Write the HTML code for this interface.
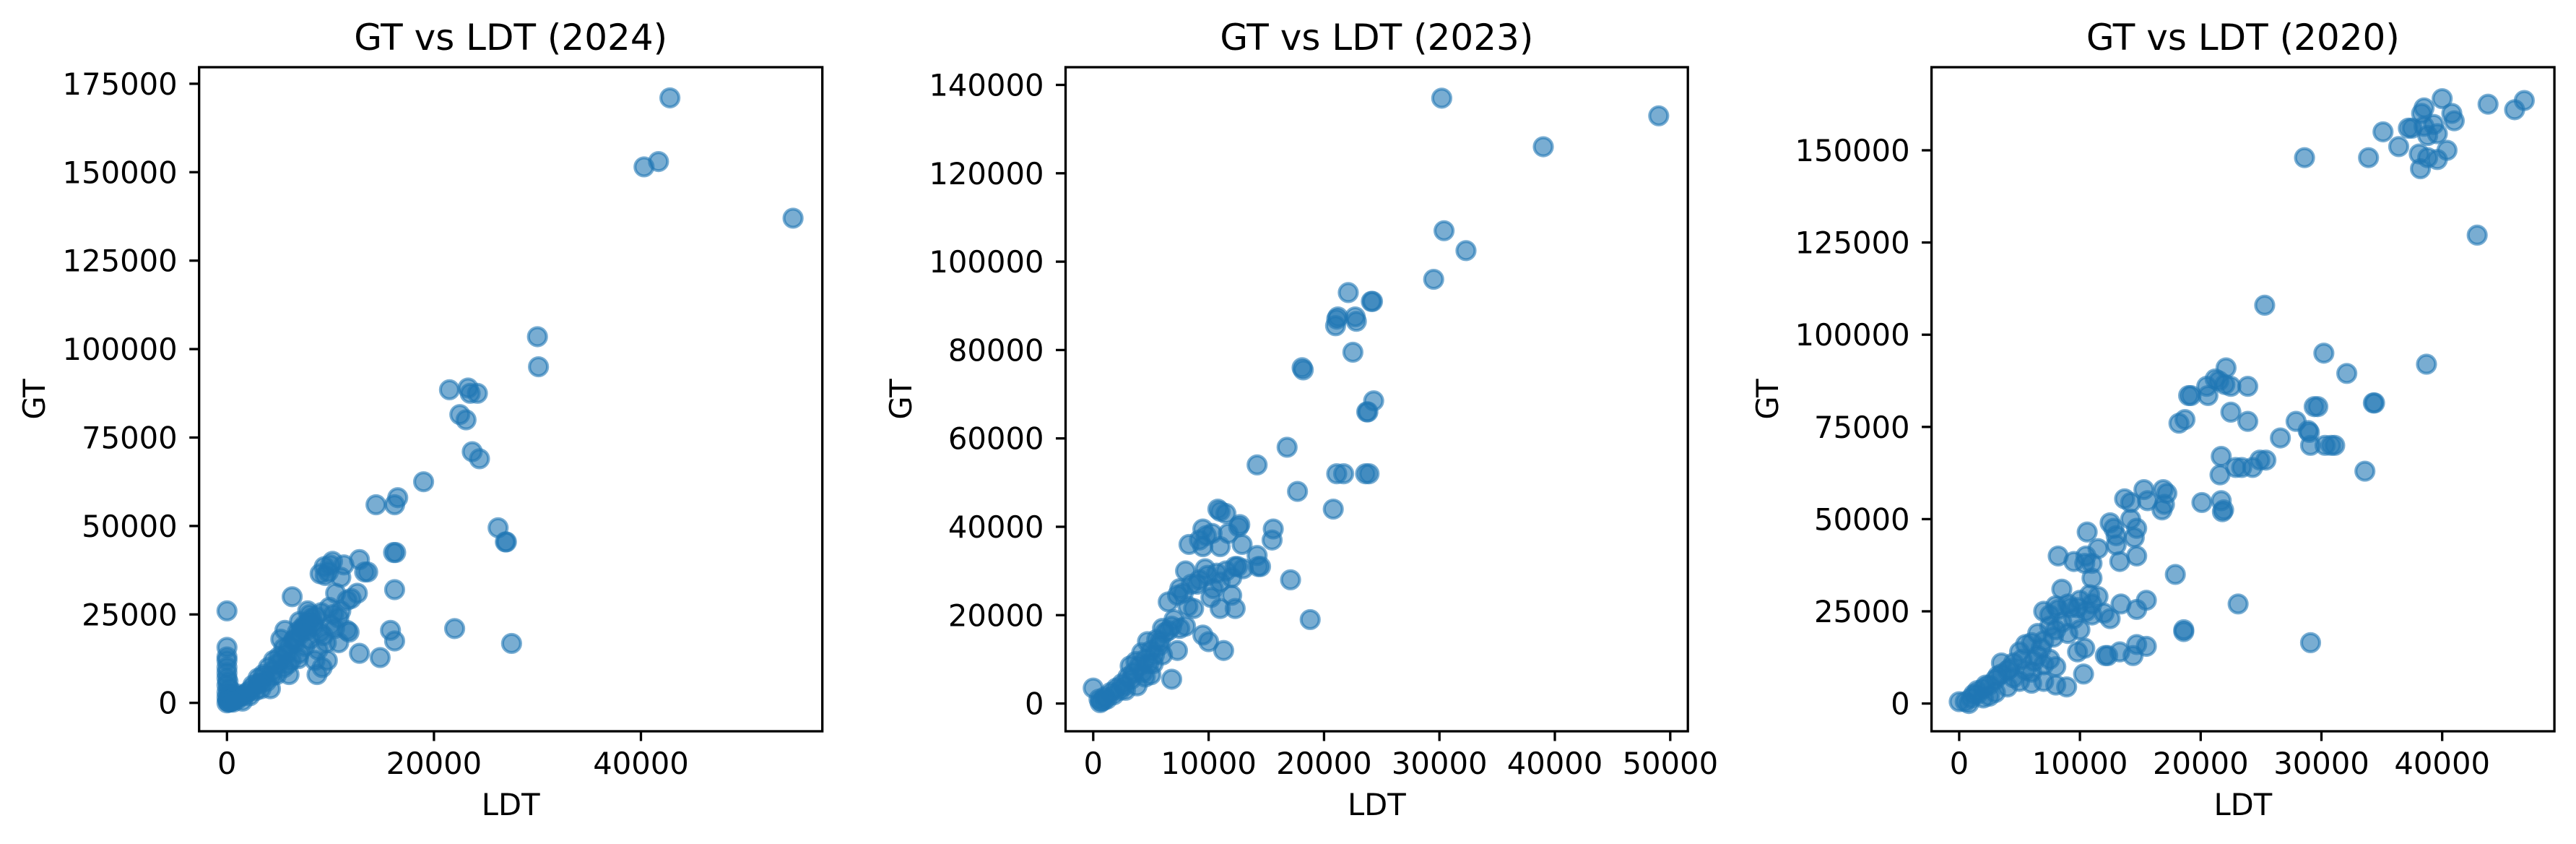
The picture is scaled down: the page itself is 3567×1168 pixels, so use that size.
<!DOCTYPE html>
<html><head><meta charset="utf-8">
<style>
html,body{margin:0;padding:0;background:#fff;}
svg{display:block;}
text{font-family:"DejaVu Sans","Liberation Sans",sans-serif;fill:#000;}
</style></head>
<body>
<svg id="fig" width="3567" height="1168" viewBox="0 0 3567 1168" xmlns="http://www.w3.org/2000/svg">
<rect width="3567" height="1168" fill="#fff"/>
</svg>
<script>
const p1LDT=[42800,40300,41700,54700,30000,30100,21500,23300,23500,24200,22500,23100,23700,24400,19000,14400,16500,16200,26200,27000,26900,16100,16300,16200,15800,16200,22000,27500,14800,12800,0,0,0,0,0,0,9000,9400,9800,10200,10000,9500,11300,12800,13300,13600,11000,10500,12600,11600,12000,11600,11800,6300,5600,8700,9200,9700,10400,10800,11000,7500,7800,8000,8200,7000,6800,6500,6000,5500,5000,4500,4000,3500,3000,2500,2000,1500,1000,500,200,0,1000,3000,4200,6000,7000,8000,9000,10000,6200,7500,8500,4800,5500,3800,2200,600,300,0,100,1500,2800,5200,6600,7200,8400,9600,9300,8800,10800,7700,6900,5900,4300,3300,0,0,0,100,200,400,800,1200,1800,2400,3200,3600,4400,4900,5300,5800,6400,7100,7400,7900,8300,8600,9100,9900,10300,100,300,600];
const p1GT=[171000,151500,153000,137000,103500,95000,88500,89000,87500,87500,81500,80000,71000,69000,62500,56000,58000,56000,49500,45500,45500,42500,42500,32000,20500,17500,21000,16800,12800,14000,26000,15700,13000,12000,8500,5000,36500,38500,37000,40000,39000,36000,39000,40500,37000,37000,35500,31000,31000,29000,29500,20500,20000,30000,20500,8000,10000,12000,21000,24000,26000,22000,26000,25000,24000,23000,20000,18000,16000,15500,13000,12000,10000,8000,7000,5000,3000,2000,1000,500,200,0,2500,5500,4000,8000,14000,18000,20000,22000,12000,16000,12000,8000,10000,6000,2000,1500,2500,3000,1000,500,3500,18000,17000,21000,21500,17000,19000,15000,17000,20500,12500,11000,7500,4000,7000,10000,1500,6000,4000,1000,1500,1800,2500,4000,5500,7500,9000,11000,12500,14000,17500,19500,21000,23000,22500,24500,25500,27000,25000,500,300,200];

const p2LDT=[30200,39000,49000,30400,32300,29500,22100,24200,24100,21200,21100,22700,22800,21000,22500,18100,18200,24300,23700,23800,16800,14200,21100,21700,23600,23900,17700,20800,15600,15500,14200,14300,14500,17100,18800,11300,10000,9500,6800,0,10800,11000,11500,12700,12600,9500,9800,10300,9200,8300,9500,11000,12900,11700,8000,9700,12300,13000,12000,11000,10400,9000,7500,7300,6500,8200,8700,11000,12300,12000,10200,7000,6000,6500,7500,8000,7300,5500,5000,4500,4000,3500,3000,2500,2000,1500,1000,700,500,3200,4700,5200,4500,3800,2800,5000,6000,5700,4200,3700,1200,1800,2300,2700,3300,4300,4800,5300,5800,6200,6800,7800,8500,9200,9900,10700,11500,12500,600,900];
const p2GT=[137000,126000,133000,107000,102500,96000,93000,91000,91000,87500,87000,87500,86500,85500,79500,76000,75500,68500,66000,66000,58000,54000,52000,52000,52000,52000,48000,44000,39500,37000,33500,31000,31000,28000,19000,12000,14000,15500,5500,3500,44000,43500,43000,40500,40000,39500,38000,38500,37000,36000,35500,35500,36000,38500,30000,30500,31000,30500,28500,27500,26000,27000,26000,24500,23000,22000,21500,21500,21500,24500,24000,19000,17000,16500,17000,17500,12000,14500,12000,10000,8500,7000,6000,4500,3500,2500,1500,500,1000,8500,14000,9000,6000,4000,3000,6500,11000,13000,11500,9500,1000,2000,3000,4000,5500,7000,9000,11000,14000,16000,17500,25000,27000,28000,29000,29500,30000,31000,200,700];

const p3LDT=[40000,46800,43800,46000,38500,38300,40800,41000,39300,37200,37500,38500,35100,39600,38800,36400,40400,38100,38800,39600,28600,33900,38200,42900,25300,30200,38700,32100,22100,21200,21500,22000,20500,22500,23900,19000,19200,20600,34400,34300,29400,29700,22500,18700,18200,23900,27900,28900,29000,26600,29100,30300,30800,31100,33600,21700,21600,22900,23400,24300,24900,25400,15300,16900,17200,16800,17000,13700,14200,15600,20100,21700,21800,21900,10600,12500,12800,13000,14200,14700,14500,13000,11500,8200,9500,10400,11000,10500,14700,13300,11000,17900,18600,18600,23100,29100,15500,14700,13400,12100,12300,13300,14400,14700,15500,10400,9800,10300,8900,8000,6000,7000,8500,7000,8000,9000,10000,11000,11500,12500,11000,9500,8500,7500,6500,5500,5000,6000,7000,8000,9000,10000,6500,7500,8000,5500,4500,4000,3500,3000,2500,2000,1500,1000,500,0,800,2000,3000,4000,5000,6000,7000,3500,4500,1500,2500,6200,7500,8200,9200,10500,12000,6800,5200,4200,3200,2200,1200,9800,10800,7800];
const p3GT=[164000,163500,162500,161000,161500,160000,160000,158000,157000,156000,156000,156500,155000,154500,154000,151000,150000,149000,148000,147500,148000,148000,145000,127000,108000,95000,92000,89500,91000,88000,87500,86500,86000,86000,86000,83500,83500,83500,81500,81500,80500,80500,79000,77000,76000,76500,76500,74000,73500,72000,70000,70000,70000,70000,63000,67000,62000,64000,64000,64000,66000,66000,58000,58000,57000,52500,54000,55500,54500,55000,54500,55000,52000,52500,46500,49000,47500,45500,50000,47500,45000,43000,42000,40000,38500,38000,38000,40000,40000,38500,34000,35000,20000,19500,27000,16500,28000,25500,27000,13000,13000,14000,13000,16000,15500,15000,14000,8000,4500,5000,5500,6000,31000,25000,26500,27000,28000,27000,29000,23000,24000,23000,22000,21000,19000,16000,14000,16500,17000,20000,19000,20000,13000,12000,10000,9000,11000,9000,8000,6500,5000,4000,2500,1500,500,500,0,1500,3000,4500,6000,8500,10500,11000,7000,3500,2000,11500,24000,25500,26000,25000,24500,15000,12000,9500,7500,5000,2500,26000,29500,18000];

const xTicks1=[0,20000,40000], yTicks1=[0,25000,50000,75000,100000,125000,150000,175000];
const xTicks2=[0,10000,20000,30000,40000,50000], yTicks2=[0,20000,40000,60000,80000,100000,120000,140000];
const xTicks3=[0,10000,20000,30000,40000], yTicks3=[0,25000,50000,75000,100000,125000,150000];

const NS='http://www.w3.org/2000/svg';
const svg=document.getElementById('fig');
function mk(tag,attrs,parent){const e=document.createElementNS(NS,tag);for(const k in attrs)e.setAttribute(k,attrs[k]);(parent||svg).appendChild(e);return e;}

function panel(cfg){
  const g=mk('g',{});
  
  
  const sx=v=>cfg.x0+v*cfg.kx, sy=v=>cfg.y0-v*cfg.ky;
  const pts=mk('g',{},g);
  
  
  for(let i=0;i<cfg.xs.length;i++){
    const c=mk('circle',{cx:sx(cfg.xs[i]),cy:sy(cfg.ys[i]),r:12.5,fill:'#1f77b4','fill-opacity':0.6,stroke:'#1f77b4','stroke-opacity':0.6,'stroke-width':4.2},pts);
    
    
  }
  const box=mk('rect',{x:cfg.L,y:cfg.T,width:cfg.R-cfg.L,height:cfg.B-cfg.T,fill:'none',stroke:'#000','stroke-width':3.3},g);
  
  
  cfg.xt.forEach(v=>{
    const x=sx(v);
    mk('line',{x1:x,x2:x,y1:cfg.B,y2:cfg.B+13.5,stroke:'#000','stroke-width':3.3},g);
    const t=mk('text',{x:x,y:cfg.B+59,'font-size':41.7,'text-anchor':'middle'},g);
    t.textContent=String(v);
    
    
  });
  cfg.yt.forEach(v=>{
    const y=sy(v);
    mk('line',{x1:cfg.L-13.5,x2:cfg.L,y1:y,y2:y,stroke:'#000','stroke-width':3.3},g);
    const t=mk('text',{x:cfg.L-30,y:y+15,'font-size':41.7,'text-anchor':'end'},g);
    t.textContent=String(v);
    
    
  });
  const ti=mk('text',{x:(cfg.L+cfg.R)/2,y:69,'font-size':50,'text-anchor':'middle'},g);
  ti.textContent=cfg.title;
  
  
  const xl=mk('text',{x:(cfg.L+cfg.R)/2,y:1128,'font-size':41.7,'text-anchor':'middle'},g);
  xl.textContent='LDT';
  
  
  const cy=(cfg.T+cfg.B)/2;
  const yl=mk('text',{x:cfg.gx,y:cy,'font-size':41.7,'text-anchor':'middle',transform:`rotate(-90 ${cfg.gx} ${cy})`,dy:15},g);
  yl.textContent='GT';
  
  
}

panel({name:'panel-2024',title:'GT vs LDT (2024)',xs:p1LDT,ys:p1GT,xt:xTicks1,yt:yTicks1,L:275.7,R:1138.7,T:93,B:1012,x0:314.3,kx:143.3/10000,y0:972.7,ky:122.4/25000,gx:47});
panel({name:'panel-2023',title:'GT vs LDT (2023)',xs:p2LDT,ys:p2GT,xt:xTicks2,yt:yTicks2,L:1475.5,R:2337.2,T:93,B:1012,x0:1513.8,kx:159.8/10000,y0:973.6,ky:122.3/20000,gx:1247});
panel({name:'panel-2020',title:'GT vs LDT (2020)',xs:p3LDT,ys:p3GT,xt:xTicks3,yt:yTicks3,L:2674.6,R:3537.1,T:93,B:1012,x0:2712.9,kx:167.2/10000,y0:973.6,ky:127.6/25000,gx:2447});
</script>
</body></html>
